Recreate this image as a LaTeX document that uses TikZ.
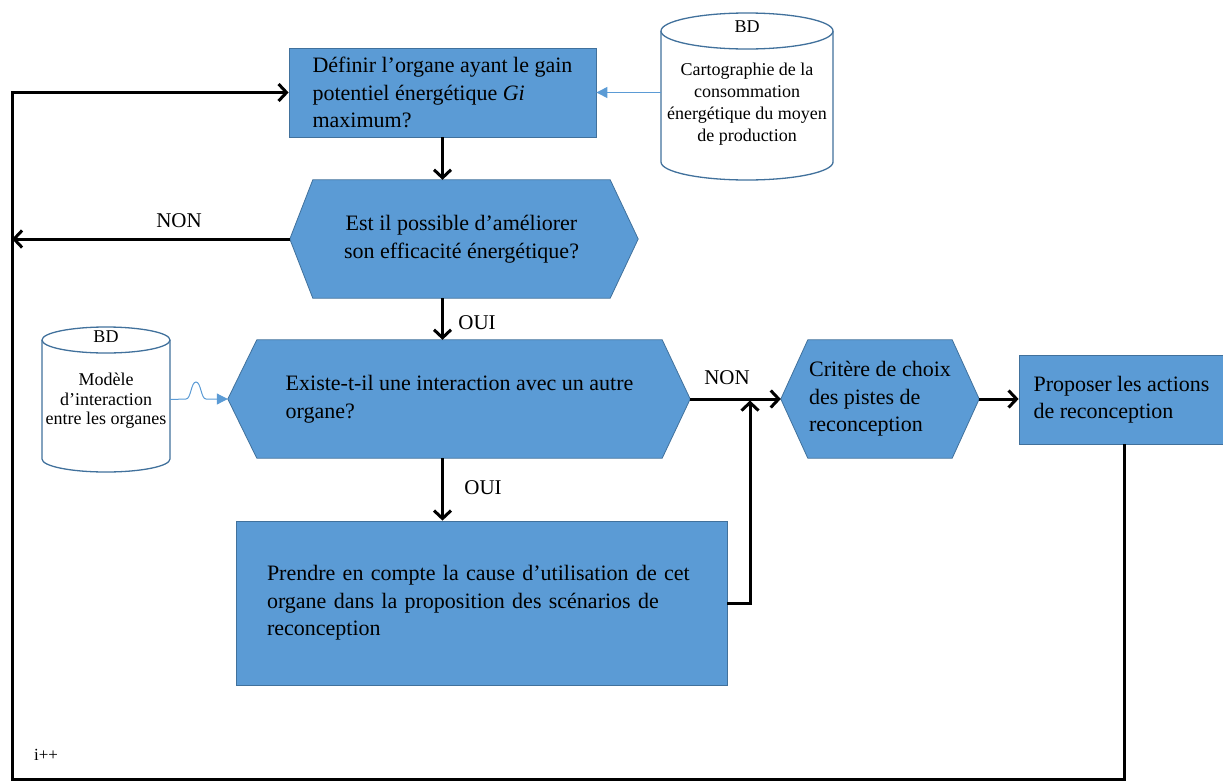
\documentclass[tikz,border=0pt]{standalone}
\usepackage{fontspec}
\setmainfont{Liberation Serif}
\usetikzlibrary{arrows.meta,backgrounds,calc}
\definecolor{boxfill}{HTML}{5B9BD5}
\definecolor{boxline}{HTML}{41719C}
\definecolor{thinblue}{HTML}{5B9BD5}
\begin{document}
\begin{tikzpicture}[x=1pt,y=1pt,
 boxnode/.style={rectangle, fill=boxfill, draw=boxline, line width=0.8pt, inner sep=0pt, font=\fontsize{22}{27.5}\selectfont, align=left},
 hexnode/.style={rectangle, inner sep=0pt, font=\fontsize{22}{27.5}\selectfont},
 hexshape/.style={fill=boxfill, draw=boxline, line width=0.8pt},
 cylline/.style={draw=boxline, line width=1.3pt, fill=white},
 cylbox/.style={rectangle, inner sep=0pt},
 cyltext/.style={font=\fontsize{18}{22}\selectfont, align=center, inner sep=0pt},
 cyltextb/.style={font=\fontsize{18}{19.5}\selectfont, align=center, inner sep=0pt},
 flow/.style={line width=3pt, -{Straight Barb[length=8pt,width=17pt]}},
 thinarrow/.style={draw=thinblue, line width=1pt, -{Triangle[length=11pt,width=11pt]}},
 lab/.style={font=\fontsize{21}{25}\selectfont, inner sep=0pt}]
\useasboundingbox (0,0) rectangle (1223,-782);

% cylinders
\node[cylbox, minimum width=172, minimum height=167] (cyl1) at (747,-96.5) {};
\draw[cylline] (661,-31) -- (661,-162) arc[start angle=180, end angle=360, x radius=86pt, y radius=18pt] -- (833,-31);
\draw[cylline] (747,-31) ellipse [x radius=86pt, y radius=18pt];
\node[cyltext] (cyl1bd) at (747,-27) {BD};
\node[cyltext] (cyl1t) at (747,-104) {Cartographie de la\\consommation\\énergétique du moyen\\de production};

\node[cylbox, minimum width=128, minimum height=145] (cyl2) at (106,-399.5) {};
\draw[cylline] (42,-340) -- (42,-459) arc[start angle=180, end angle=360, x radius=64pt, y radius=13pt] -- (170,-340);
\draw[cylline] (106,-340) ellipse [x radius=64pt, y radius=13pt];
\node[cyltextb] (cyl2bd) at (106,-337) {BD};
\node[cyltextb] (cyl2t) at (106,-401) {Modèle\\d’interaction\\entre les organes};

% boxes
\node[boxnode, minimum width=307, minimum height=89] (b1) at (442.5,-92.5) {Définir l’organe ayant le gain\\potentiel énergétique \textit{Gi}\\maximum?};
\node[hexnode, minimum width=297, minimum height=118, align=center] (h1) at (461.5,-239) {Est il possible d’améliorer\\son efficacité énergétique?};
\node[hexnode, minimum width=405, minimum height=118, align=left] (h2) at (459.5,-399) {Existe-t-il une interaction avec un autre\\organe?};
\node[hexnode, minimum width=144, minimum height=118, align=left] (h3) at (880,-399) {Critère de choix\\des pistes de\\reconception};
\node[boxnode, minimum width=491, minimum height=164, text width=429, inner xsep=31] (b3) at (481.5,-603) {Prendre en compte la cause d’utilisation de cet\\organe dans la proposition des scénarios de\\reconception};
\node[boxnode, minimum width=205, minimum height=89] (b4) at (1121.5,-399.5) {Proposer les actions\\de reconception};

\coordinate (h1L) at ([xshift=-23]h1.west);
\coordinate (h1R) at ([xshift=28]h1.east);
\coordinate (h2L) at ([xshift=-29]h2.west);
\coordinate (h2R) at ([xshift=28]h2.east);
\coordinate (h3L) at ([xshift=-27]h3.west);
\coordinate (h3R) at ([xshift=27]h3.east);

\begin{scope}[on background layer]
\foreach \h in {h1,h2,h3}{
 \draw[hexshape] (\h.north west) -- (\h.north east) -- (\h R) -- (\h.south east) -- (\h.south west) -- (\h L) -- cycle;
}
\end{scope}

\coordinate (lb) at (12,-779);
\coordinate (j) at (750,-400.5);

% labels
\node[lab] (non1) at (179,-221) {NON};
\node[lab] (oui1) at (477,-323) {OUI};
\node[lab] (oui2) at (483,-488) {OUI};
\node[lab] (non2) at (727,-378) {NON};
\node[font=\fontsize{17}{20}\selectfont, inner sep=0pt] (ipp) at (46,-755) {i++};

% connectors
\draw[flow] (b1.south) -- (b1.south |- h1.north);
\draw[flow] (h1L) -- (h1L -| lb);
\draw[flow] (b1.south |- h1.south) -- (b1.south |- h2.north);
\draw[flow] (b1.south |- h2.south) -- (b1.south |- b3.north);
\draw[flow] (h2R) -- (h3L);
\draw[flow] (b3.east) -| (j);
\draw[flow] (h3R) -- (h3R -| b4.west);
\draw[flow] ([xshift=2.5]b4.south) |- (lb) |- (b1.west);

\draw[thinarrow] (cyl1.west |- b1.east) -- (b1.east);
\draw[thinarrow] (cyl2.east) -- (186,-399) .. controls (191,-399) and (191,-382) .. (196,-382) .. controls (201,-382) and (201,-399) .. (206,-399) -- (h2L);
\end{tikzpicture}
\end{document}
